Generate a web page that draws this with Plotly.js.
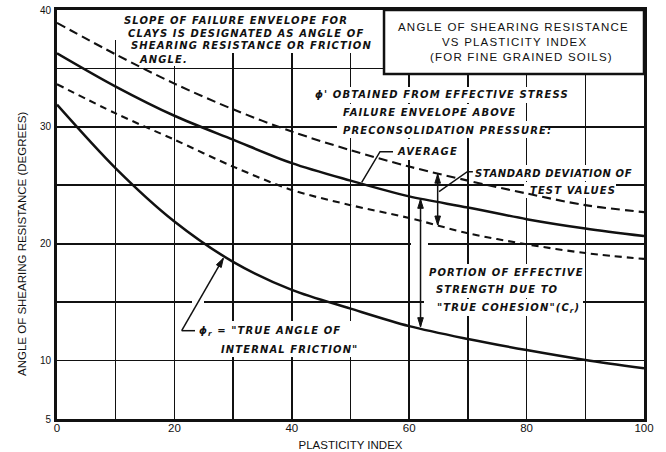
<!DOCTYPE html>
<html>
<head>
<meta charset="utf-8">
<script src="https://cdn.plot.ly/plotly-3.0.1.min.js"></script>
<style>
  html, body { margin: 0; padding: 0; background: #fff; }
  #chart { width: 666px; height: 452px; }
</style>
</head>
<body>
<div id="chart"></div>
<script>
// Plasticity index (x) and angle of shearing resistance in degrees (y)
const plasticityIndex = [0, 10, 20, 30, 40, 50, 60, 70, 80, 90, 100];
const phiUpperStdDev  = [38.9, 36.2, 33.7, 31.5, 29.6, 28.0, 26.6, 25.4, 24.3, 23.3, 22.7];
const phiAverage      = [36.3, 33.45, 30.95, 28.9, 26.9, 25.4, 24.05, 23.1, 22.1, 21.3, 20.65];
const phiLowerStdDev  = [33.65, 31.15, 28.9, 26.6, 24.6, 23.3, 22.2, 20.9, 19.95, 19.2, 18.7];
const phiTrueFriction = [31.9, 26.45, 21.9, 18.45, 16.05, 14.45, 12.95, 11.85, 10.9, 10.05, 9.34];

const xTickVals  = [0, 20, 40, 60, 80, 100];
const xGridExtra = [10, 30, 50, 70, 90];
const yTickVals  = [5, 10, 20, 30, 40];
const yGridExtra = [15, 25, 35];

const X_RANGE = [0, 100], Y_RANGE = [5, 40];
const W = 666, H = 452, M = { l: 57, r: 22, t: 10, b: 33 };
// pixels per axis unit, used to orient arrowheads
const PX_X = (W - M.l - M.r) / (X_RANGE[1] - X_RANGE[0]);
const PX_Y = (H - M.t - M.b) / (Y_RANGE[1] - Y_RANGE[0]);

const INK = '#111';
const LETTER = { family: 'DejaVu Sans', size: 10, color: INK, weight: 'bold', style: 'italic' };
const PLAIN = { family: 'Liberation Sans', size: 11.5, color: INK };

const spaced = (t, px) => '<span style="letter-spacing:' + px + 'px">' + t + '</span>';

function curve(y, dash, width) {
  return {
    x: plasticityIndex, y: y, type: 'scatter', mode: 'lines',
    line: { color: INK, width: width, dash: dash, shape: 'spline', smoothing: 0.9 },
    hoverinfo: 'skip', showlegend: false
  };
}

const traces = [
  curve(phiUpperStdDev, '9px,5px', 2.1),
  curve(phiAverage, 'solid', 2.5),
  curve(phiLowerStdDev, '7px,5px', 2.1),
  curve(phiTrueFriction, 'solid', 2.5)
];

// Hand lettering placed on the grid (left edge, vertical centre)
function note(x, y, t, ls) {
  return { x: x, y: y, xref: 'x', yref: 'y', text: spaced(t, ls || 1.1), showarrow: false,
           xanchor: 'left', yanchor: 'middle', align: 'left', font: LETTER };
}
function titleLine(x, y, t) {
  return { x: x, y: y, xref: 'x', yref: 'y', text: spaced(t, 1.2), showarrow: false,
           xanchor: 'center', yanchor: 'middle', font: PLAIN };
}

const annotations = [
  note(11.02, 39.06, 'SLOPE OF FAILURE ENVELOPE FOR'),
  note(11.75, 38.0, 'CLAYS IS DESIGNATED AS ANGLE OF'),
  note(12.32, 36.92, 'SHEARING RESISTANCE OR FRICTION'),
  note(13.68, 35.78, 'ANGLE.'),

  titleLine(77.85, 38.57, 'ANGLE OF SHEARING RESISTANCE'),
  titleLine(78.02, 37.29, 'VS PLASTICITY INDEX'),
  titleLine(79.17, 35.95, '(FOR FINE GRAINED SOILS)'),

  note(43.61, 32.73, "ϕ' OBTAINED FROM EFFECTIVE STRESS"),
  note(48.33, 31.21, 'FAILURE ENVELOPE ABOVE'),
  note(48.33, 29.73, 'PRECONSOLIDATION PRESSURE:'),
  note(57.58, 27.87, 'AVERAGE'),
  note(70.92, 26.03, 'STANDARD DEVIATION OF', 0.6),
  note(80.29, 24.54, 'TEST VALUES'),
  note(63.08, 17.52, 'PORTION OF EFFECTIVE'),
  note(64.22, 16.04, 'STRENGTH DUE TO'),
  note(64.40, 14.47, '"TRUE COHESION"(C<sub>r</sub>)'),
  note(23.80, 12.47, 'ϕ<sub>r</sub> = "TRUE ANGLE OF'),
  note(27.65, 10.97, 'INTERNAL FRICTION"'),

  { x: -0.0596, y: 0.428, xref: 'paper', yref: 'paper', textangle: -90,
    text: 'ANGLE OF SHEARING RESISTANCE (DEGREES)', showarrow: false,
    xanchor: 'center', yanchor: 'middle', font: PLAIN }
];

// White patches that break the grid behind the lettering
function gap(x0, x1, y0, y1) {
  return { type: 'rect', xref: 'x', yref: 'y', x0: x0, x1: x1, y0: y0, y1: y1,
           fillcolor: '#fff', line: { width: 0 }, layer: 'between' };
}
function leader(path) {
  return { type: 'path', xref: 'x', yref: 'y', path: path,
           line: { color: INK, width: 1.5 }, layer: 'above' };
}
function shaft(x0, y0, x1, y1) {
  return { type: 'line', xref: 'x', yref: 'y', x0: x0, y0: y0, x1: x1, y1: y1,
           line: { color: INK, width: 1.5 }, layer: 'above' };
}
// filled arrowhead with its tip at (x, y), pointing away from (fx, fy)
function head(x, y, fx, fy) {
  const dx = (x - fx) * PX_X, dy = (y - fy) * PX_Y;
  const len = Math.hypot(dx, dy), ux = dx / len, uy = dy / len;
  const L = 9, HW = 2.8;
  const bx = -L * ux, by = -L * uy, px = -uy * HW, py = ux * HW;
  const f = v => v.toFixed(2);
  return { type: 'path', xref: 'x', yref: 'y', xsizemode: 'pixel', ysizemode: 'pixel',
           xanchor: x, yanchor: y,
           path: 'M0,0 L' + f(bx + px) + ',' + f(by + py) + ' L' + f(bx - px) + ',' + f(by - py) + ' Z',
           fillcolor: INK, line: { color: INK, width: 1 }, layer: 'above' };
}

const shapes = [
  gap(9.03, 50.26, 38.46, 40),
  gap(9.03, 54.0, 37.43, 38.55),
  gap(11.41, 54.0, 36.32, 37.43),
  gap(12.95, 22.66, 35.21, 36.32),
  gap(42.93, 87.22, 32.04, 33.41),
  gap(47.70, 78.02, 30.50, 31.96),
  gap(47.70, 83.13, 29.05, 30.50),
  gap(54.34, 67.29, 27.16, 28.96),
  gap(70.36, 97.61, 25.37, 26.74),
  gap(79.56, 95.23, 23.91, 25.28),
  gap(62.35, 89.78, 16.81, 18.27),
  gap(63.54, 84.84, 15.36, 16.81),
  gap(62.52, 89.61, 13.81, 15.27),
  gap(60.31, 63.20, 19.63, 20.32),
  gap(23.0, 50.8, 11.76, 13.39),
  gap(26.92, 51.28, 10.31, 11.76),
  gap(23.0, 25.04, 14.59, 15.44),

  // title panel
  { type: 'rect', xref: 'x', yref: 'y', x0: 55.71, x1: 100, y0: 34.52, y1: 40,
    fillcolor: '#fff', line: { color: INK, width: 2.5 }, layer: 'between' },

  leader('M57.24,27.874 L55.03,27.874 L51.91,25.25'),
  leader('M70.85,26.163 L69.9,26.163 L65.08,24.45'),
  leader('M23.51,12.557 L21.24,12.557'),

  // spread of test values about the average
  shaft(64.85, 21.6, 64.85, 25.95),
  head(64.85, 25.95, 64.85, 21.6),
  head(64.85, 21.6, 64.85, 25.95),
  // share of strength due to true cohesion
  shaft(61.93, 12.9, 61.93, 23.8),
  head(61.93, 23.8, 61.93, 12.9),
  head(61.93, 12.9, 61.93, 23.8),
  // pointer to the true friction curve
  shaft(21.24, 12.557, 28.33, 18.75),
  head(28.33, 18.75, 21.24, 12.557)
];

const gridStyle = { showgrid: true, gridcolor: INK, ticks: '' };

const layout = {
  width: W, height: H,
  margin: { l: M.l, r: M.r, t: M.t, b: M.b, pad: 0 },
  paper_bgcolor: '#fff', plot_bgcolor: '#fff',
  showlegend: false,
  font: { family: 'Liberation Sans', color: INK },
  xaxis: {
    range: X_RANGE, tickmode: 'array', tickvals: xTickVals,
    showgrid: true, gridcolor: INK, gridwidth: 1.5, zeroline: false,
    minor: Object.assign({ tickmode: 'array', tickvals: xGridExtra, gridwidth: 1.5 }, gridStyle),
    showline: true, linecolor: INK, linewidth: 3, mirror: true,
    ticks: '', ticklabelstandoff: -4, tickfont: { size: 11.5, color: INK },
    title: { text: 'PLASTICITY INDEX', font: { size: 11.5, color: INK }, standoff: 9 },
    fixedrange: true
  },
  yaxis: {
    range: Y_RANGE, tickmode: 'array', tickvals: yTickVals,
    showgrid: true, gridcolor: INK, gridwidth: 1.8, zeroline: false,
    minor: Object.assign({ tickmode: 'array', tickvals: yGridExtra, gridwidth: 1.8 }, gridStyle),
    showline: true, linecolor: INK, linewidth: 3, mirror: true,
    ticks: '', ticklabelstandoff: 1, tickfont: { size: 10, color: INK },
    fixedrange: true
  },
  annotations: annotations,
  shapes: shapes
};

Plotly.newPlot('chart', traces, layout, { staticPlot: true, displayModeBar: false });
</script>
</body>
</html>
